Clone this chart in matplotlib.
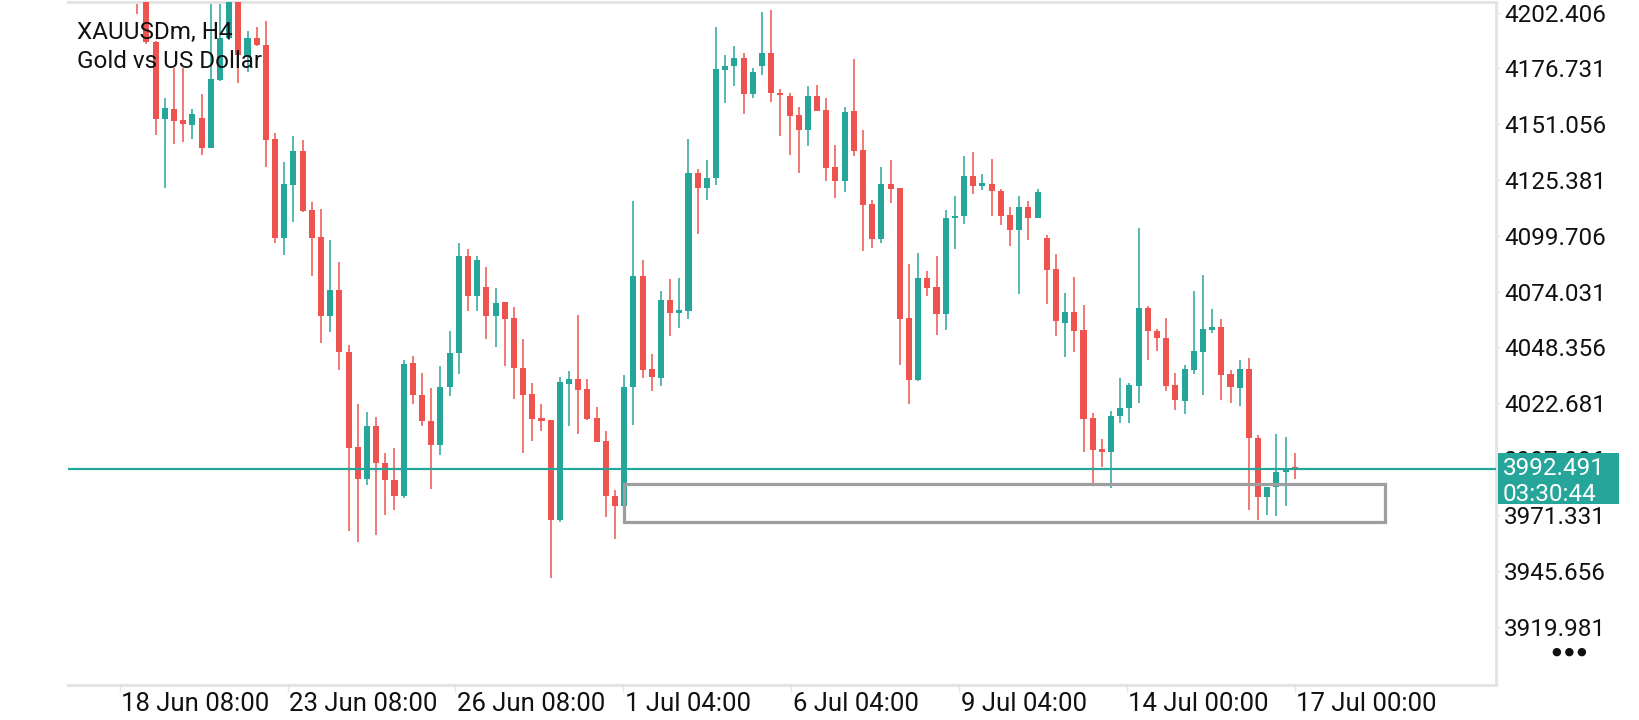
import matplotlib
matplotlib.use("Agg")
import matplotlib.pyplot as plt
import matplotlib.transforms as mtransforms
from matplotlib.patches import Rectangle

plt.rcParams['font.family'] = ['Roboto', 'DejaVu Sans']

# XAUUSDm H4 candles, oldest first
opens = [4226.0, 4213.0, 4188.7, 4153.6, 4158.0, 4152.9, 4150.8, 4153.7, 4140.1, 4171.5,
         4190.5, 4211.0, 4182.3, 4190.5, 4187.7, 4144.2, 4098.9, 4123.2, 4138.5, 4111.4,
         4099.2, 4062.8, 4074.8, 4046.5, 4002.8, 3987.7, 4012.4, 3995.1, 3987.2, 3979.9,
         4041.1, 4026.3, 4014.5, 4003.7, 4030.4, 4045.7, 4090.4, 4072.0, 4076.2, 4062.8,
         4069.3, 4061.9, 4039.1, 4027.0, 4016.0, 4014.8, 3969.2, 4031.6, 4033.7, 4029.3,
         4016.0, 4005.3, 3980.0, 3975.4, 4030.4, 4081.2, 4038.6, 4034.5, 4070.2, 4064.4,
         4065.2, 4128.6, 4121.6, 4126.5, 4176.2, 4177.7, 4181.5, 4165.1, 4177.9, 4183.6,
         4165.4, 4164.2, 4155.2, 4148.2, 4163.9, 4157.5, 4131.4, 4124.7, 4156.9, 4139.1,
         4114.2, 4098.4, 4123.5, 4121.6, 4061.9, 4033.5, 4080.3, 4076.2, 4063.8, 4107.8,
         4108.6, 4127.0, 4122.4, 4123.5, 4120.2, 4109.4, 4102.3, 4113.0, 4108.1, 4098.9,
         4084.4, 4059.8, 4064.7, 4056.4, 4016.0, 4001.7, 4000.5, 4017.0, 4020.6, 4030.8,
         4066.5, 4056.0, 4052.9, 4031.2, 4023.9, 4038.1, 4046.5, 4056.5, 4057.8, 4036.2,
         4029.9, 4038.5, 4006.9, 3979.5, 3984.4, 3990.9, 3992.8]
highs = [4230.0, 4216.0, 4189.5, 4163.3, 4176.7, 4177.0, 4158.0, 4164.9, 4210.0, 4209.5,
         4216.0, 4214.0, 4193.8, 4195.8, 4198.7, 4147.0, 4133.7, 4145.4, 4144.0, 4115.3,
         4112.0, 4097.7, 4087.6, 4049.3, 4022.2, 4018.9, 4016.5, 3999.7, 4002.0, 4042.4,
         4044.4, 4036.5, 4029.6, 4039.8, 4055.9, 4096.3, 4093.7, 4090.4, 4085.4, 4075.6,
         4069.3, 4067.0, 4052.3, 4032.1, 4022.2, 4014.8, 4034.9, 4037.5, 4063.3, 4033.7,
         4021.1, 4009.9, 3982.8, 4035.8, 4115.6, 4088.6, 4045.2, 4074.3, 4079.8, 4080.3,
         4144.2, 4130.3, 4134.5, 4195.8, 4183.1, 4186.9, 4183.9, 4176.9, 4202.7, 4203.7,
         4167.2, 4165.6, 4158.8, 4168.4, 4169.0, 4163.1, 4141.4, 4159.0, 4181.0, 4148.3,
         4116.1, 4131.4, 4134.5, 4121.6, 4086.7, 4091.8, 4083.5, 4090.2, 4111.5, 4118.1,
         4136.3, 4138.3, 4128.1, 4135.0, 4121.1, 4113.0, 4118.1, 4115.6, 4121.2, 4099.9,
         4091.3, 4073.4, 4080.8, 4067.9, 4018.1, 4006.3, 4019.3, 4034.5, 4032.1, 4103.5,
         4067.5, 4056.7, 4062.0, 4036.5, 4040.3, 4074.3, 4081.7, 4066.1, 4061.6, 4037.8,
         4042.7, 4043.6, 4007.9, 3984.4, 4008.6, 4007.4, 4000.0]
lows = [4201.7, 4187.9, 4146.0, 4121.9, 4141.8, 4142.9, 4144.4, 4137.0, 4140.1, 4170.8,
        4189.7, 4170.0, 4174.9, 4187.1, 4131.4, 4096.4, 4091.0, 4106.0, 4110.7, 4081.0,
        4050.6, 4055.4, 4037.8, 3963.9, 3959.0, 3985.3, 3962.3, 3971.3, 3973.4, 3979.0,
        4022.2, 4012.4, 3983.3, 3998.7, 4026.0, 4036.2, 4064.9, 4064.9, 4052.1, 4048.5,
        4039.8, 4024.7, 4000.0, 4005.3, 4009.9, 3942.1, 3968.0, 4012.4, 4008.6, 4014.8,
        4005.0, 3970.2, 3960.2, 3975.4, 4012.9, 4034.5, 4028.5, 4030.8, 4053.4, 4057.5,
        4061.6, 4100.7, 4116.3, 4123.2, 4161.0, 4168.7, 4155.7, 4163.3, 4173.8, 4161.3,
        4145.4, 4136.7, 4128.6, 4140.9, 4157.2, 4124.8, 4117.0, 4119.9, 4136.3, 4092.7,
        4094.3, 4096.6, 4115.0, 4040.4, 4022.2, 4032.9, 4072.0, 4054.2, 4056.4, 4093.7,
        4105.1, 4119.1, 4120.7, 4108.9, 4104.8, 4094.8, 4073.1, 4097.7, 4108.1, 4068.5,
        4053.4, 4043.9, 4046.5, 4000.5, 3986.1, 3993.2, 3983.6, 4013.5, 4013.7, 4023.0,
        4042.7, 4046.8, 4028.3, 4019.8, 4017.6, 4036.2, 4026.6, 4055.2, 4024.3, 4023.0,
        4021.4, 3973.8, 3969.2, 3971.3, 3970.8, 3975.4, 3988.0]
closes = [4213.0, 4188.7, 4153.4, 4158.3, 4152.6, 4151.3, 4155.7, 4140.3, 4171.8, 4190.5,
          4212.0, 4183.1, 4190.5, 4187.6, 4144.0, 4098.9, 4123.5, 4138.5, 4111.2, 4098.9,
          4062.8, 4074.8, 4046.5, 4002.0, 3987.7, 4012.4, 3995.1, 3987.2, 3980.0, 4040.8,
          4026.3, 4014.5, 4003.7, 4030.4, 4045.7, 4090.4, 4072.0, 4088.4, 4062.8, 4068.7,
          4061.6, 4039.1, 4026.6, 4015.6, 4014.5, 3969.2, 4032.6, 4033.7, 4028.8, 4015.6,
          4005.0, 3980.0, 3975.4, 4030.4, 4081.2, 4038.1, 4035.0, 4070.2, 4064.4, 4065.6,
          4128.6, 4121.6, 4126.5, 4176.4, 4177.7, 4181.5, 4165.1, 4175.1, 4183.6, 4165.6,
          4164.6, 4154.9, 4148.2, 4163.9, 4157.2, 4131.1, 4124.7, 4156.5, 4138.8, 4114.0,
          4098.4, 4123.5, 4121.4, 4061.6, 4033.5, 4080.3, 4075.9, 4063.8, 4108.1, 4108.9,
          4127.0, 4122.4, 4123.9, 4120.1, 4108.6, 4102.3, 4113.0, 4108.1, 4119.9, 4084.1,
          4060.3, 4064.7, 4056.0, 4015.6, 4001.4, 4000.5, 4017.0, 4020.6, 4031.2, 4066.5,
          4055.7, 4052.9, 4030.8, 4024.3, 4038.5, 4046.7, 4056.9, 4057.8, 4035.8, 4030.4,
          4038.5, 4006.6, 3979.5, 3984.4, 3991.0, 3992.2, 3992.49]

price_ticks = [4202.406, 4176.731, 4151.056, 4125.381, 4099.706, 4074.031,
               4048.356, 4022.681, 3997.006, 3971.331, 3945.656, 3919.981]
time_labels = ["18 Jun 08:00", "23 Jun 08:00", "26 Jun 08:00", "1 Jul 04:00",
               "6 Jul 04:00", "9 Jul 04:00", "14 Jul 00:00", "17 Jul 00:00"]
time_label_bars = [-1.9, 16.4, 34.6, 52.9, 71.2, 89.5, 107.7, 126.0]

last_price = 3992.491
countdown = "03:30:44"
zone_first_bar, zone_last_bar = 53, 135.8
zone_low, zone_high = 3967.9, 3985.4

up_color = '#26a69a'
down_color = '#ef5350'
frame_color = '#e4e4e4'
fs = 17.5

fig = plt.figure(figsize=(16.4, 7.2), dpi=100)
ax = fig.add_axes([68 / 1640, 1 - 685 / 720, 1428 / 1640, 683 / 720])

xs = list(range(len(opens)))
cols = [up_color if c >= o else down_color for o, c in zip(opens, closes)]
bottoms = [min(o, c) for o, c in zip(opens, closes)]
heights = [max(abs(c - o), 0.8) for o, c in zip(opens, closes)]

ax.vlines(xs, lows, highs, colors=cols, lw=1.1, zorder=2)
ax.bar(xs, heights, bottom=bottoms, width=0.66, color=cols, linewidth=0, zorder=3)

ax.axhline(last_price, color=up_color, lw=1.6, zorder=4)
ax.add_patch(Rectangle((zone_first_bar, zone_low), zone_last_bar - zone_first_bar,
                       zone_high - zone_low, fill=False, ec='#9e9e9e', lw=2.3, zorder=5))

ax.set_xlim(-7.54, 147.9)
ax.set_ylim(3893.1, 4207.26)

# price scale on the right
ax.yaxis.tick_right()
ax.set_yticks(price_ticks)
ax.set_yticklabels([f"{v:.3f}" for v in price_ticks])
ax.tick_params(axis='y', length=3, width=1, color=frame_color, pad=3,
               labelsize=fs, labelcolor='#111111')

# time scale
ax.set_xticks(time_label_bars)
ax.set_xticklabels(time_labels)
ax.tick_params(axis='x', length=5, width=1, color=frame_color, pad=0,
               labelsize=18.5, labelcolor='#111111')
shift = mtransforms.ScaledTranslation(1 / 72, 0, fig.dpi_scale_trans)
for lbl in ax.get_xticklabels():
    lbl.set_horizontalalignment('left')
    lbl.set_transform(lbl.get_transform() + shift)

for side in ['top', 'right', 'bottom']:
    ax.spines[side].set_color(frame_color)
    ax.spines[side].set_linewidth(2.2)
ax.spines['left'].set_visible(False)

# current price tag (drawn over the 3997.006 label, as on the terminal)
ytr = ax.get_yaxis_transform()
ax.add_patch(Rectangle((1.0014, last_price - 16.3), 0.0847, 23.5, transform=ytr,
                       clip_on=False, fc=up_color, ec='none', zorder=6))
ax.text(1.0049, last_price, f"{last_price:.3f}", transform=ytr, va='center', ha='left',
        color='white', fontsize=fs, zorder=7, clip_on=False)
ax.text(1.0049, last_price - 11.6, countdown, transform=ytr, va='center', ha='left',
        color='white', fontsize=fs, zorder=7, clip_on=False)

ax.text(0.0061, 0.956, "XAUUSDm, H4", transform=ax.transAxes, va='center', ha='left',
        fontsize=fs, color='#111111', zorder=10)
ax.text(0.0061, 0.9136, "Gold vs US Dollar", transform=ax.transAxes, va='center', ha='left',
        fontsize=fs, color='#111111', zorder=10)

fig.text(1569 / 1640, 1 - 652 / 720, "\u25cf \u25cf \u25cf", ha='center', va='center',
         fontsize=8, color='#111111')

fig.savefig("out.png", dpi=100)
